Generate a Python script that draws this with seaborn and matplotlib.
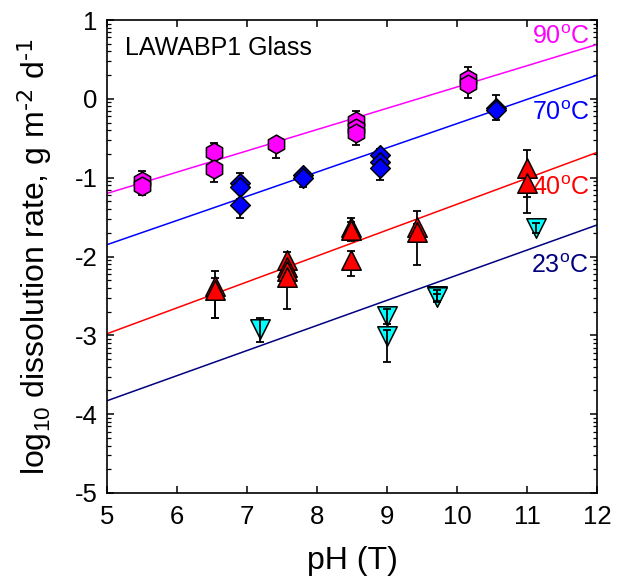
import numpy as np
import pandas as pd
import matplotlib
matplotlib.use("Agg")
import matplotlib.pyplot as plt
import seaborn as sns

# ---------------- data ----------------
ph_90 = [5.50, 5.50, 6.53, 6.53, 7.42, 8.55, 8.55, 8.55, 10.15, 10.15]
rate_90 = [-1.04, -1.10, -0.67, -0.89, -0.57, -0.28, -0.37, -0.43, 0.25, 0.19]
errlo_90 = [0.10, 0.12, 0.08, 0.16, 0.18, 0.08, 0.08, 0.15, 0.08, 0.18]
errhi_90 = [0.12, 0.08, 0.11, 0.08, 0.06, 0.12, 0.06, 0.06, 0.15, 0.08]

ph_70 = [6.90, 6.90, 6.90, 7.80, 7.80, 8.90, 8.90, 8.90, 10.55, 10.55]
rate_70 = [-1.07, -1.12, -1.35, -0.97, -1.01, -0.71, -0.80, -0.88, -0.11, -0.14]
errlo_70 = [0.08, 0.08, 0.16, 0.08, 0.11, 0.08, 0.08, 0.15, 0.08, 0.13]
errhi_70 = [0.13, 0.08, 0.08, 0.07, 0.07, 0.07, 0.07, 0.07, 0.16, 0.07]

ph_40 = [6.54, 6.54, 7.57, 7.57, 7.57, 7.57, 8.48, 8.48, 8.48, 9.43, 9.43, 11.00, 11.00]
rate_40 = [-2.38, -2.42, -2.05, -2.13, -2.19, -2.26, -1.62, -1.66, -2.05, -1.62, -1.69, -0.88, -1.07]
errlo_40 = [0.40, 0.36, 0.10, 0.10, 0.10, 0.41, 0.10, 0.14, 0.20, 0.10, 0.42, 0.36, 0.38]
errhi_40 = [0.19, 0.15, 0.11, 0.10, 0.10, 0.10, 0.11, 0.10, 0.12, 0.20, 0.10, 0.23, 0.10]

ph_23 = [7.18, 9.00, 9.00, 9.71, 9.71, 11.13]
rate_23 = [-2.92, -2.76, -3.01, -2.50, -2.52, -1.64]
errlo_23 = [0.16, 0.10, 0.33, 0.06, 0.06, 0.06]
errhi_23 = [0.14, 0.10, 0.08, 0.07, 0.05, 0.07]

fit_ph = [5.0, 12.0]
fit_90 = [-1.20, 0.69]
fit_70 = [-1.85, 0.30]
fit_40 = [-2.98, -0.68]
fit_23 = [-3.83, -1.60]

temp_labels = ["90", "70", "40", "23"]
label_y = [0.69, -0.265, -1.22, -2.215]
label_x = [11.9, 11.9, 11.9, 11.88]

xticks = [5, 6, 7, 8, 9, 10, 11, 12]
yticks = [-5, -4, -3, -2, -1, 0, 1]

# ---------------- style ----------------
sns.set_style("ticks")
plt.rcParams["font.family"] = ["Liberation Sans", "DejaVu Sans"]
plt.rcParams["mathtext.default"] = "regular"
plt.rcParams["axes.unicode_minus"] = False
plt.rcParams["text.color"] = "black"
plt.rcParams["axes.labelcolor"] = "black"
plt.rcParams["xtick.color"] = "black"
plt.rcParams["ytick.color"] = "black"

fig = plt.figure(figsize=(6.21, 5.81), dpi=100)
ax = fig.add_axes([107 / 621, 1 - 493 / 581, 490 / 621, 473 / 581])

line_colors = ["#FF00FF", "#0000FF", "#FF0000", "#000080"]
face_colors = ["#FF00FF", "#0000FF", "#FF0000", "#00FFFF"]
markers = ["h", "D", "^", "v"]
msizes = [13.5, 10.0, 14.0, 14.0]

fits = [fit_90, fit_70, fit_40, fit_23]
for fit, c in zip(fits, line_colors):
    sns.lineplot(x=fit_ph, y=fit, color=c, lw=1.1, ax=ax, zorder=2)

series = [
    (ph_90, rate_90, errlo_90, errhi_90),
    (ph_70, rate_70, errlo_70, errhi_70),
    (ph_40, rate_40, errlo_40, errhi_40),
    (ph_23, rate_23, errlo_23, errhi_23),
]
for i, (px, ry, lo, hi) in enumerate(series):
    ez = 5 if i == 3 else 3
    ax.errorbar(px, ry, yerr=[lo, hi], fmt="none", ecolor="black",
                elinewidth=1.3, capsize=3.2, capthick=1.3, zorder=ez)
    df = pd.DataFrame({"pH": px, "rate": ry})
    sns.scatterplot(data=df, x="pH", y="rate", marker=markers[i],
                    s=msizes[i] ** 2, color=face_colors[i],
                    edgecolor="black", linewidth=1.1, ax=ax, zorder=4,
                    legend=False)

for t, lx, ly, c in zip(temp_labels, label_x, label_y, line_colors):
    ax.text(lx, ly, t + "$^{o}$C", color=c, fontsize=18, ha="right",
            va="baseline")

ax.text(5.26, 0.556, "LAWABP1 Glass", fontsize=18, ha="left", va="baseline")

ax.set_xlim(5, 12)
ax.set_ylim(-5, 1)
ax.set_xticks(xticks)
ax.set_yticks(yticks)
minor = [d + np.log10(k) for d in range(-5, 1) for k in range(2, 10)]
ax.set_yticks(minor, minor=True)
ax.tick_params(axis="both", which="major", direction="in", length=5,
               width=1.1, top=True, right=True, labelsize=18.5, colors="black")
ax.tick_params(axis="y", which="minor", direction="in", length=3,
               width=0.9, left=True, right=True)
ax.tick_params(axis="x", which="major", pad=9)
ax.tick_params(axis="y", which="major", pad=7)
for sp in ax.spines.values():
    sp.set_visible(True)
    sp.set_linewidth(1.2)
    sp.set_color("black")

ax.set_xlabel("pH (T)", fontsize=23, labelpad=12)
ax.set_ylabel(r"log$_{10}$ dissolution rate, g m$^{\text{-2}}$ d$^{\text{-1}}$",
              fontsize=23, labelpad=15)

fig.savefig("out.png", dpi=100)
